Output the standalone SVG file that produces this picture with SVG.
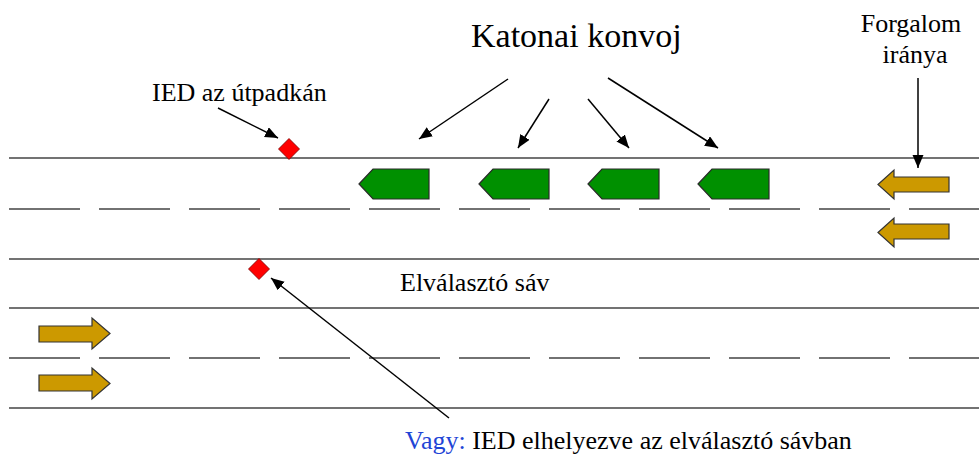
<svg xmlns="http://www.w3.org/2000/svg" width="979" height="454" viewBox="0 0 979 454">
  <defs>
    <style>
      .road { stroke: #444; stroke-width: 1.6; fill: none; }
      .lane { stroke: #444; stroke-width: 1.6; fill: none; stroke-dasharray: 71 19; }
      .vehicle { fill: #009000; stroke: #2a2a2a; stroke-width: 1.2; }
      .traffic { fill: #cc9900; stroke: #333; stroke-width: 1.2; }
      .ied { fill: #ff0000; stroke: #7a0000; stroke-width: 0.8; }
      .conn { stroke: #000; stroke-width: 1.5; fill: none; marker-end: url(#head); }
    </style>
    <marker id="head" markerUnits="userSpaceOnUse" markerWidth="14" markerHeight="12" refX="13" refY="5.5" orient="auto">
      <path d="M0,0 L13,5.5 L0,11 Z" fill="#000"/>
    </marker>
  </defs>

  <rect width="979" height="454" fill="#fff"/>

  <!-- carriageways -->
  <g id="road">
    <line class="road" x1="9" y1="158" x2="979" y2="158"/>
    <line class="lane" x1="9" y1="209" x2="979" y2="209"/>
    <line class="road" x1="9" y1="259" x2="979" y2="259"/>
    <line class="road" x1="9" y1="308" x2="979" y2="308"/>
    <line class="lane" x1="9" y1="358" x2="979" y2="358"/>
    <line class="road" x1="9" y1="408" x2="979" y2="408"/>
  </g>

  <!-- convoy vehicles -->
  <g id="vehicle-1"><polygon class="vehicle" points="359,184 373,169 429,169 429,199 373,199"/></g>
  <g id="vehicle-2"><polygon class="vehicle" points="479,184 493,169 549,169 549,199 493,199"/></g>
  <g id="vehicle-3"><polygon class="vehicle" points="588,184 602,169 659,169 659,199 602,199"/></g>
  <g id="vehicle-4"><polygon class="vehicle" points="698,184 712,169 769,169 769,199 712,199"/></g>

  <!-- traffic direction arrows -->
  <g id="traffic-left-1"><polygon class="traffic" points="878,184.5 894,170 894,177 949,177 949,192 894,192 894,199"/></g>
  <g id="traffic-left-2"><polygon class="traffic" points="878,232.5 894,218 894,224 949,224 949,239 894,239 894,247"/></g>
  <g id="traffic-right-1"><polygon class="traffic" points="110,333.5 92,318 92,326 39,326 39,342 92,342 92,349"/></g>
  <g id="traffic-right-2"><polygon class="traffic" points="110,383.5 92,368 92,375 39,375 39,391 92,391 92,399"/></g>

  <!-- explosive devices -->
  <g id="ied-shoulder"><polygon class="ied" points="289,138.5 299.5,149 289,159.5 278.5,149"/></g>
  <g id="ied-median"><polygon class="ied" points="259,258.5 269.5,269 259,279.5 248.5,269"/></g>

  <!-- labels -->
  <g font-family="'Liberation Serif', 'Times New Roman', 'DejaVu Serif', serif" font-size="26" fill="#000">
    <g id="label-convoy"><text x="471" y="47" font-size="34">Katonai konvoj</text></g>
    <g id="label-direction">
      <text x="911" y="32" text-anchor="middle">Forgalom</text>
      <text x="915" y="63" text-anchor="middle">iránya</text>
    </g>
    <g id="label-shoulder"><text x="152" y="101">IED az útpadkán</text></g>
    <g id="label-median"><text x="400" y="291">Elválasztó sáv</text></g>
    <g id="label-alt"><text x="405" y="449"><tspan fill="#1f45d6">Vagy:</tspan> IED elhelyezve az elválasztó sávban</text></g>
  </g>

  <!-- connectors -->
  <g id="connectors">
    <line class="conn" x1="508" y1="79" x2="419" y2="139"/>
    <line class="conn" x1="549" y1="99" x2="518" y2="148"/>
    <line class="conn" x1="588" y1="99" x2="629" y2="148"/>
    <line class="conn" x1="608" y1="78" x2="718" y2="148"/>
    <line class="conn" x1="218" y1="108" x2="278" y2="138"/>
    <line class="conn" x1="449" y1="418" x2="271" y2="278"/>
    <line class="conn" x1="918" y1="78" x2="918" y2="168"/>
  </g>
</svg>
